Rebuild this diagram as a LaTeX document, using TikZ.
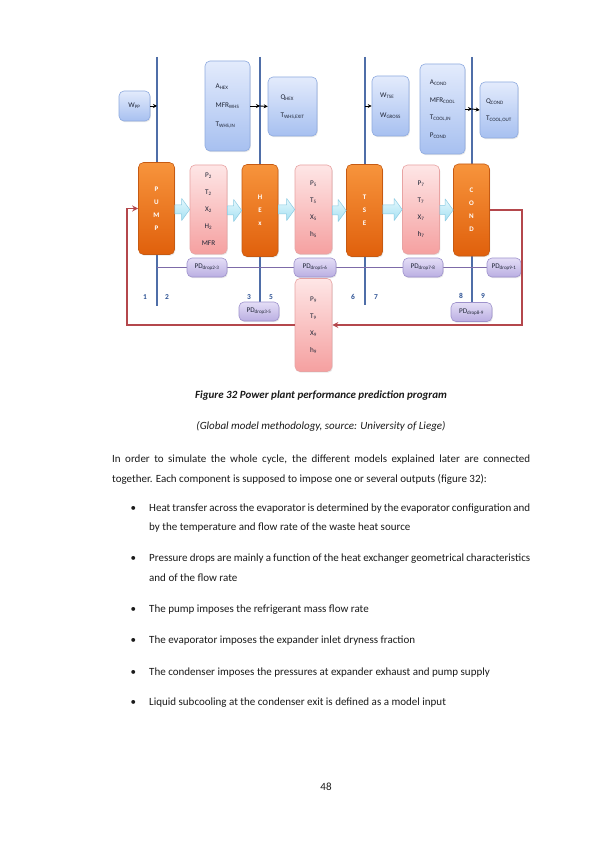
\documentclass[tikz,border=0pt]{standalone}
\usepackage{fontspec}
\setmainfont{Carlito}
\usetikzlibrary{arrows.meta,calc,shadows,backgrounds}
\definecolor{lineblue}{HTML}{4F6EA8}
\definecolor{linepurp}{HTML}{7D6BA8}
\definecolor{linered}{HTML}{B4474C}
\definecolor{numblue}{HTML}{2F5496}
\definecolor{bluetop}{HTML}{E3EBFC}
\definecolor{bluebot}{HTML}{A7C0F0}
\definecolor{bluebd}{HTML}{8EAADF}
\definecolor{ortop}{HTML}{F7943C}
\definecolor{orbot}{HTML}{E0600C}
\definecolor{orbd}{HTML}{C65A12}
\definecolor{pktop}{HTML}{FEE6E6}
\definecolor{pkbot}{HTML}{F5A0A0}
\definecolor{pkbd}{HTML}{E8A3A3}
\definecolor{putop}{HTML}{E4DEF6}
\definecolor{pubot}{HTML}{BAAEE2}
\definecolor{pubd}{HTML}{9E92CC}
\definecolor{cytop}{HTML}{E6F8FD}
\definecolor{cybot}{HTML}{A3E0F2}
\definecolor{cybd}{HTML}{8CCBE2}
\definecolor{boxtext}{HTML}{1F2536}
\definecolor{bodytext}{HTML}{1A1A1A}
\newcommand\subtx[1]{\textsubscript{#1}}
\newcommand\blockarr[2]{%
  \path[cyarrow] ($(#1.east |- #2.west)+(0,4.5)$) -- ($(#2.west)+(-8,4.5)$) -- ($(#2.west)+(-8,11)$)
    -- (#2.west) -- ($(#2.west)+(-8,-11)$) -- ($(#2.west)+(-8,-4.5)$) -- ($(#1.east |- #2.west)+(0,-4.5)$) -- cycle;}
\tikzset{
  boxbase/.style={rounded corners=5pt, inner sep=0pt, line width=0.6pt,
    drop shadow={opacity=0.18, shadow xshift=0.8pt, shadow yshift=-1.2pt}},
  parbox/.style={boxbase, draw=bluebd, top color=bluetop, bottom color=bluebot, text=boxtext,
    font=\fontsize{7.2}{8.5}\selectfont, align=left},
  compbox/.style={boxbase, draw=orbd, top color=ortop, bottom color=orbot, text=white,
    font=\fontsize{7}{8}\selectfont\bfseries, align=center, minimum width=36pt, minimum height=92pt},
  statebox/.style={boxbase, draw=pkbd, top color=pktop, bottom color=pkbot, text=boxtext,
    font=\fontsize{7.2}{8.5}\selectfont, align=center, minimum width=37pt, minimum height=89pt},
  pdbox/.style={boxbase, draw=pubd, top color=putop, bottom color=pubot, text=boxtext,
    font=\fontsize{7.2}{8.5}\selectfont, minimum width=40pt, minimum height=19pt},
  cyarrow/.style={draw=cybd, top color=cytop, bottom color=cybot, line width=0.5pt, line join=round},
  bline/.style={draw=lineblue, line width=1.3pt},
  pline/.style={draw=linepurp, line width=1.4pt},
  redl/.style={draw=linered, line width=1.4pt, -{Stealth[length=6pt,width=6pt]}},
  blk/.style={draw=black, line width=0.9pt, -{Stealth[length=4pt,width=4pt]}},
  numlab/.style={font=\fontsize{7.5}{8}\selectfont\bfseries, text=numblue, inner sep=0pt},
  body/.style={font=\fontsize{11}{13}\selectfont, text=bodytext, inner sep=0pt, anchor=base west},
}
\begin{document}
\begin{tikzpicture}[x=1pt, y=-1pt]
\useasboundingbox (0,0) rectangle (595,842);

% parameter boxes
\node[parbox, minimum width=31pt, minimum height=30pt] (wpp) at (134.5,106) {W\subtx{PP}};
\node[parbox, minimum width=45pt, minimum height=90pt] (ahex) at (227.5,106) {A\subtx{HEX}\\[10.5pt]MFR\subtx{WHS}\\[10.5pt]T\subtx{WHS,IN}};
\node[parbox, minimum width=49pt, minimum height=59pt] (qhex) at (292.5,106.5) {Q\subtx{HEX}\\[9.5pt]T\subtx{WHS,EXIT}};
\node[parbox, minimum width=37pt, minimum height=60pt] (wtse) at (390.5,106) {W\subtx{TSE}\\[11.5pt]W\subtx{GROSS}};
\node[parbox, minimum width=45pt, minimum height=90pt] (acond) at (442.5,109) {A\subtx{COND}\\[9pt]MFR\subtx{COOL}\\[9pt]T\subtx{COOL,IN}\\[9pt]P\subtx{COND}};
\node[parbox, minimum width=38pt, minimum height=56pt] (qcond) at (499,110) {Q\subtx{COND}\\[8.5pt]T\subtx{COOL,OUT}};

% component boxes
\node[compbox] (pump) at (156.5,208.5) {P\\[5pt]U\\[5pt]M\\[5pt]P};
\node[compbox] (hex) at (260,210.5) {H\\[5pt]E\\[5pt]x};
\node[compbox] (tse) at (364.5,210.5) {T\\[5pt]S\\[5pt]E};
\node[compbox] (cond) at (471.5,210) {C\\[5pt]O\\[5pt]N\\[5pt]D};

% state boxes
\node[statebox] (s2) at (208.5,209.5) {P\subtx{2}\\[8.5pt]T\subtx{2}\\[8.5pt]X\subtx{2}\\[8.5pt]H\subtx{2}\\[8.5pt]MFR};
\node[statebox] (s5) at (313.5,209.5) {P\subtx{5}\\[8.5pt]T\subtx{5}\\[8.5pt]X\subtx{5}\\[8.5pt]h\subtx{5}};
\node[statebox] (s7) at (421,209.5) {P\subtx{7}\\[8.5pt]T\subtx{7}\\[8.5pt]X\subtx{7}\\[8.5pt]h\subtx{7}};
\node[statebox, minimum height=93pt] (s9) at (313.5,325) {P\subtx{9}\\[8.5pt]T\subtx{9}\\[8.5pt]X\subtx{9}\\[8.5pt]h\subtx{9}};

% pressure drop boxes
\node[pdbox] (pd23) at (207,267.5) {PD\subtx{drop2-3}};
\node[pdbox, minimum width=42pt] (pd56) at (315,267.5) {PD\subtx{drop5-6}};
\node[pdbox] (pd78) at (423,267.5) {PD\subtx{drop7-8}};
\node[pdbox, minimum width=34pt] (pd91) at (504,267.5) {PD\subtx{drop9-1}};
\node[pdbox] (pd35) at (259,311.5) {PD\subtx{drop3-5}};
\node[pdbox, minimum width=41pt] (pd89) at (471.5,312) {PD\subtx{drop8-9}};

% line coordinates
\coordinate (l1t) at (157,57);
\coordinate (l1b) at (157,306);
\coordinate (l2t) at (260,57);
\coordinate (l3t) at (365,57);
\coordinate (l3b) at (365,305);
\coordinate (l4t) at (472,57);
\coordinate (pds) at (157,267.5);
\coordinate (rr) at (522,210);
\coordinate (rl) at (127,209);

\begin{scope}[on background layer]
  \fill[white] (0,0) rectangle (595,842);
  \draw[bline] (l1t) -- (l1b);
  \draw[bline] (l2t) -- (l2t |- pd35.north);
  \draw[bline] (l3t) -- (l3b);
  \draw[bline] (l4t) -- (l4t |- pd89.north);
  \draw[pline] (pds) -- (pd23.west);
  \draw[pline] (pd23.east) -- (pd56.west);
  \draw[pline] (pd56.east) -- (pd78.west);
  \draw[pline] (pd78.east) -- (pd91.west);
\end{scope}

% numbers
\node[numlab] (n1) at (145,297) {1};
\node[numlab] (n2) at (167,297) {2};
\node[numlab] (n3) at (249,297) {3};
\node[numlab] (n5) at (271,297) {5};
\node[numlab] (n6) at (353,297) {6};
\node[numlab] (n7) at (376,297) {7};
\node[numlab] (n8) at (461,296) {8};
\node[numlab] (n9) at (483,296) {9};

% black arrows
\draw[blk] (wpp.east) -- (wpp.east -| l1t);
\draw[blk] (ahex.east) -- (ahex.east -| l2t);
\draw[blk] (ahex.east -| l2t) -- (qhex.west);
\draw[blk] (wtse.west -| l3t) -- (wtse.west);
\draw[blk] (acond.east) -- (acond.east -| l4t);
\draw[blk] (acond.east -| l4t) -- (qcond.west);

% cyan block arrows
\blockarr{pump}{s2}
\blockarr{s2}{hex}
\blockarr{hex}{s5}
\blockarr{s5}{tse}
\blockarr{tse}{s7}
\blockarr{s7}{cond}

% red loop
\draw[redl] (cond.east) -- (cond.east -| rr) |- (s9.east);
\draw[redl] (s9.west) -| (rl) |- (pump.west);

% caption
\node[font=\fontsize{11}{13}\selectfont\bfseries\itshape, text=bodytext, inner sep=0pt, anchor=base] (cap1) at (321,398) {Figure 32 Power plant performance prediction program};
\node[font=\fontsize{11}{13}\selectfont\itshape, text=bodytext, inner sep=0pt, anchor=base] (cap2) at (321,429.5) {(Global model methodology, source: University of Liege)};

% paragraph
\node[body] (p1) at (112,462.5) {\makebox[418pt][s]{In order to simulate the whole cycle, the different models explained later are connected}};
\node[body] (p2) at (112,482.5) {together. Each component is supposed to impose one or several outputs (figure 32):};

% bullets
\node[body] (d1) at (130.5,511) {•};
\node[body] (t1a) at (149,511) {\makebox[381pt][s]{Heat transfer across the evaporator is determined by the evaporator configuration and}};
\node[body] (t1b) at (149,530.5) {by the temperature and flow rate of the waste heat source};
\node[body] (d2) at (130.5,561.5) {•};
\node[body] (t2a) at (149,561.5) {\makebox[381pt][s]{Pressure drops are mainly a function of the heat exchanger geometrical characteristics}};
\node[body] (t2b) at (149,581.5) {and of the flow rate};
\node[body] (d3) at (130.5,612.5) {•};
\node[body] (t3) at (149,612.5) {The pump imposes the refrigerant mass flow rate};
\node[body] (d4) at (130.5,643.5) {•};
\node[body] (t4) at (149,643.5) {The evaporator imposes the expander inlet dryness fraction};
\node[body] (d5) at (130.5,675.5) {•};
\node[body] (t5) at (149,675.5) {The condenser imposes the pressures at expander exhaust and pump supply};
\node[body] (d6) at (130.5,705) {•};
\node[body] (t6) at (149,705) {Liquid subcooling at the condenser exit is defined as a model input};

% page number
\node[font=\fontsize{11}{13}\selectfont, text=bodytext, inner sep=0pt, anchor=base] (pg) at (326,790) {48};
\end{tikzpicture}
\end{document}
